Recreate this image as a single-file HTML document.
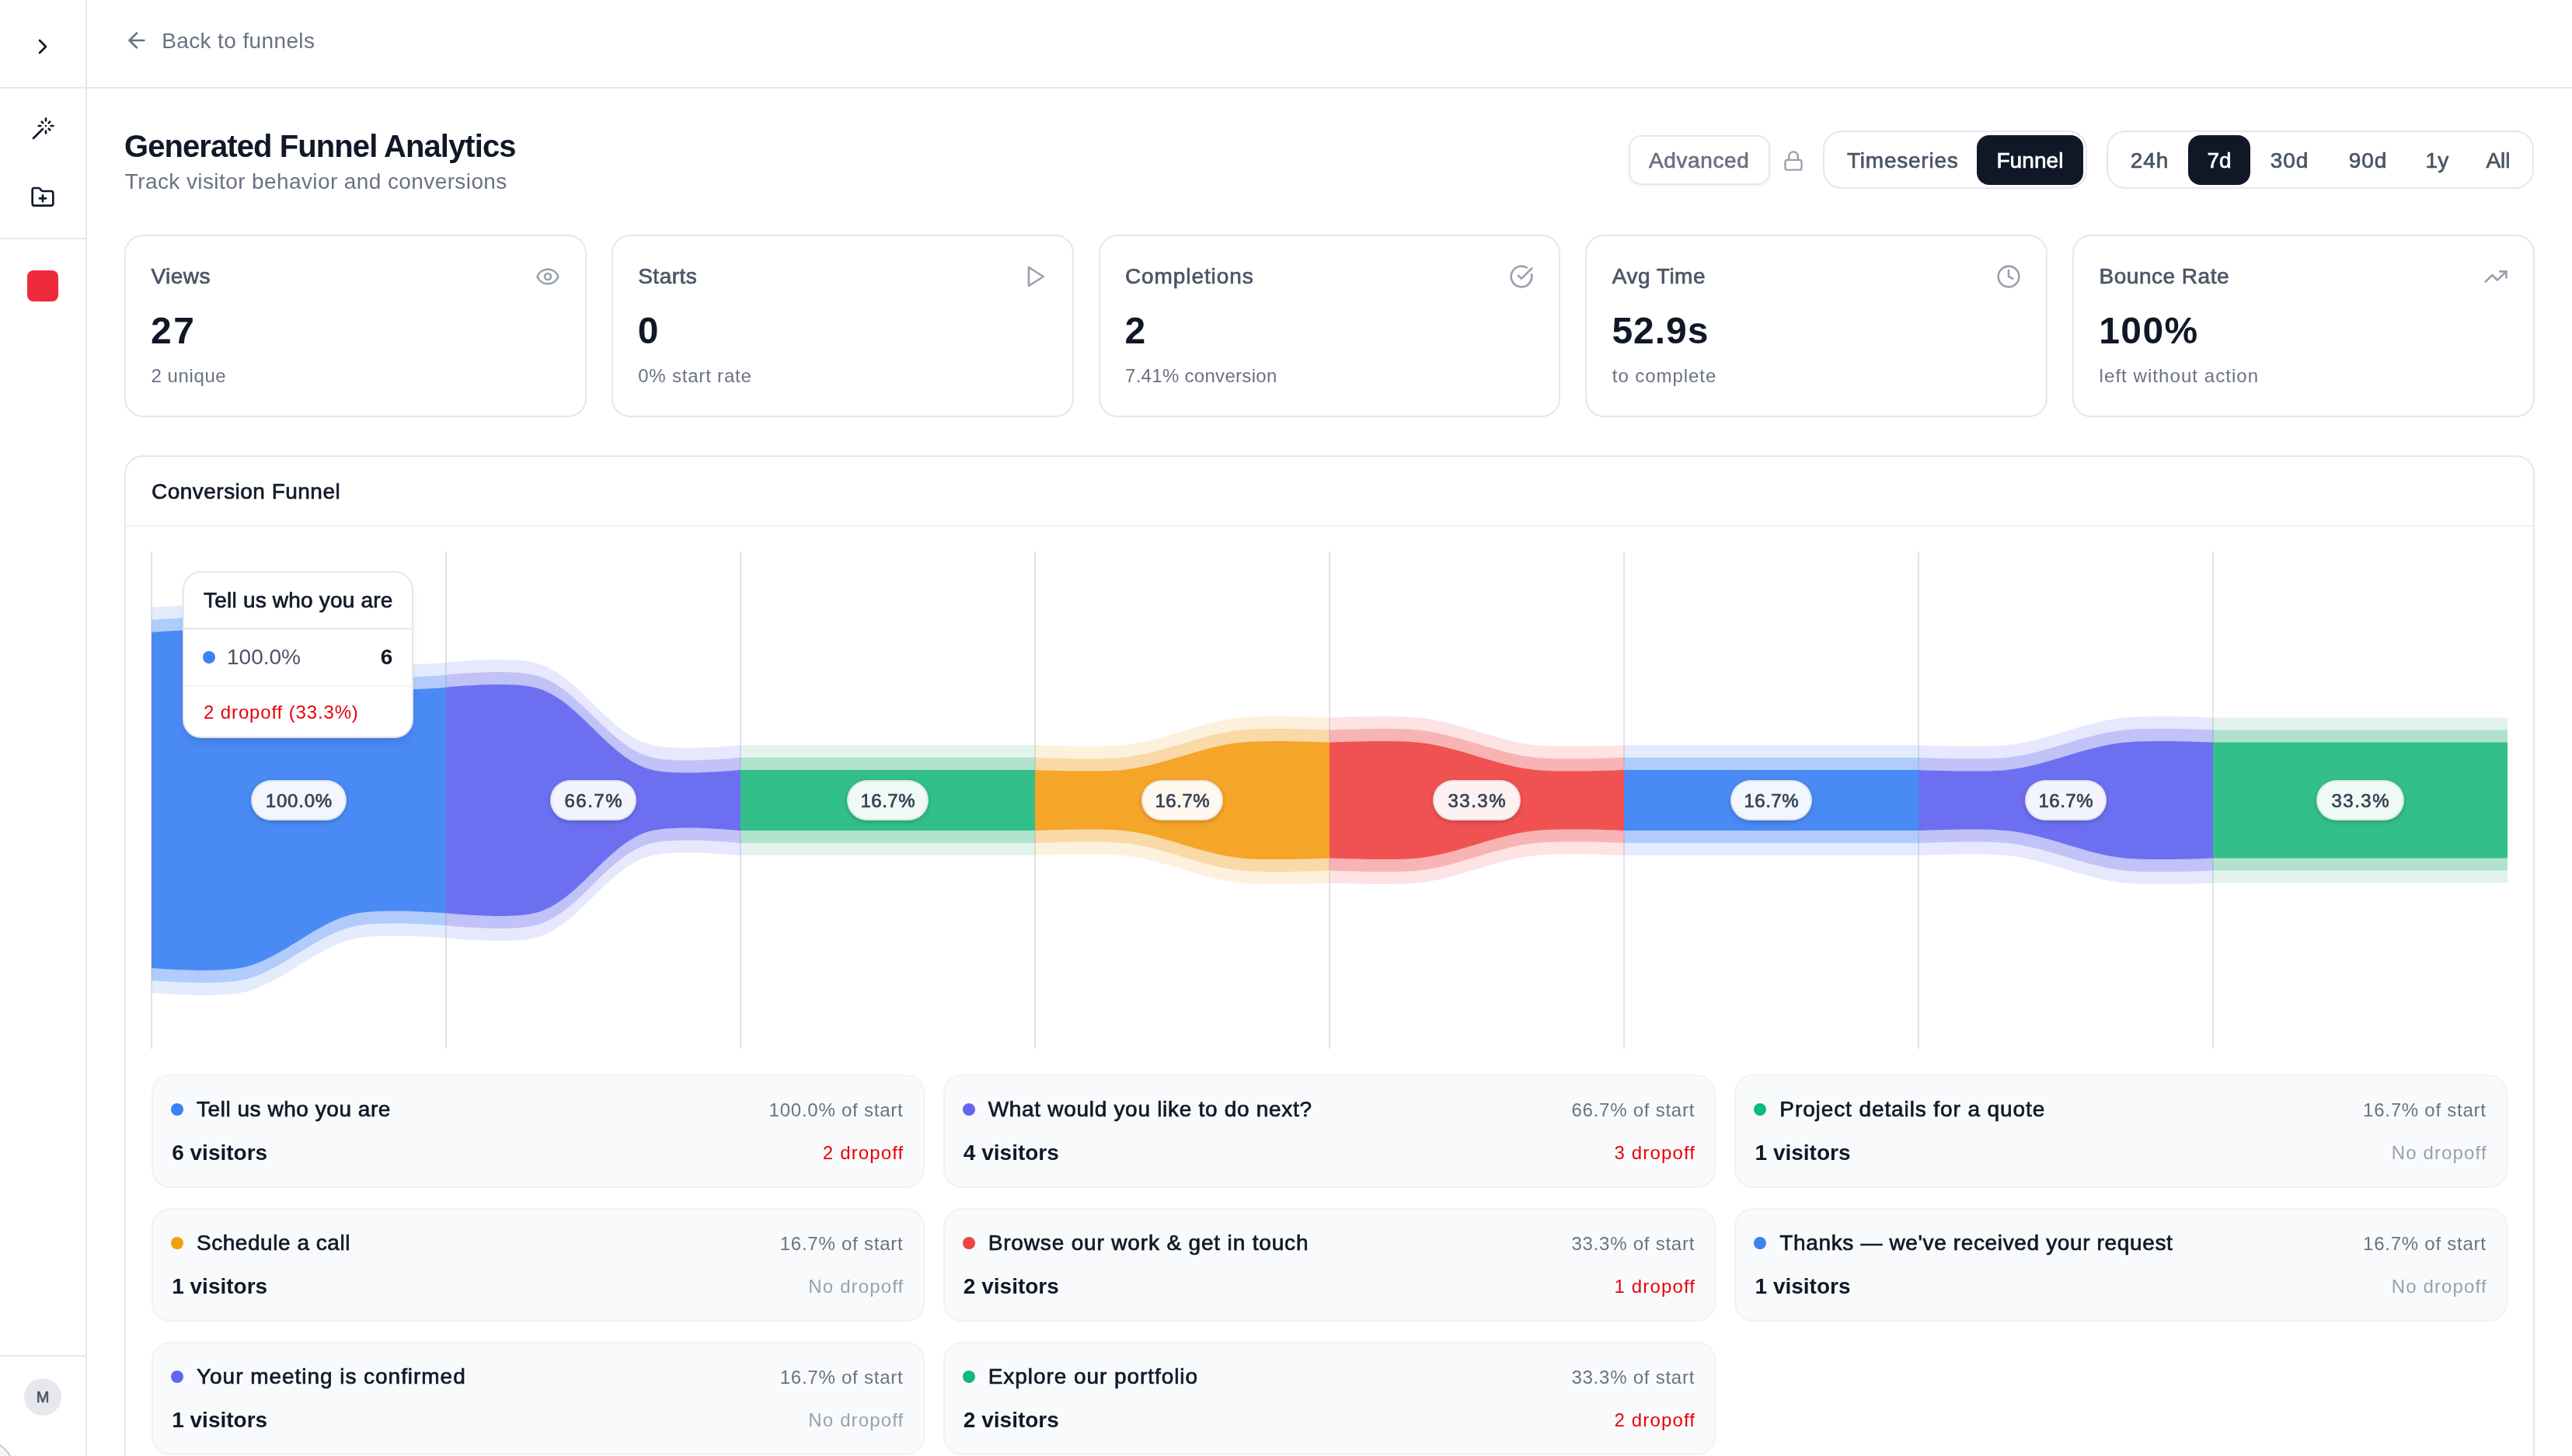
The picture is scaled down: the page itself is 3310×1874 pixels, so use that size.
<!DOCTYPE html>
<html><head><meta charset="utf-8"><title>Funnel Analytics</title>
<style>
html,body{margin:0;padding:0;overflow:hidden}
@media (min-width: 2400px){html{zoom:2}}
body{width:1655px;height:937px;overflow:hidden;position:relative;background:#fff;font-family:"Liberation Sans", sans-serif;}
.t{position:absolute;white-space:nowrap;line-height:1;}
.pill{position:absolute;width:120px;display:flex;justify-content:center;height:26px;font-size:12px;color:#364153;}
.pill span{display:inline-block;height:26px;box-sizing:border-box;line-height:25px;padding:0;text-align:center;border:1px solid rgba(0,0,0,0.07);border-radius:13px;background:rgba(255,255,255,0.92);box-shadow:0 1px 3px rgba(0,0,0,0.12),0 1px 2px rgba(0,0,0,0.08);letter-spacing:0.25px;-webkit-text-stroke-width:0.35px}
</style></head><body>
<div id="root" style="position:absolute;left:0;top:0;width:1655px;height:937px;overflow:hidden;will-change:transform">
<div style="position:absolute;left:55.00px;top:0.00px;width:1.00px;height:937.00px;background:#e5e7eb"></div>
<div style="position:absolute;left:0.00px;top:56.00px;width:55.00px;height:1.00px;background:#e5e7eb"></div>
<div style="position:absolute;left:56.00px;top:56.00px;width:1599.00px;height:1.00px;background:#e5e7eb"></div>
<svg style="position:absolute;left:19.50px;top:22.20px" width="16" height="16" viewBox="0 0 24 24" fill="none" stroke="#101828" stroke-width="2" stroke-linecap="round" stroke-linejoin="round"><path d="m9 18 6-6-6-6"/></svg>
<svg style="position:absolute;left:19.50px;top:74.90px" width="16" height="16" viewBox="0 0 24 24" fill="none" stroke="#101828" stroke-width="2" stroke-linecap="round" stroke-linejoin="round"><path d="M15 4V2"/><path d="M15 16v-2"/><path d="M8 9h2"/><path d="M20 9h2"/><path d="M17.8 11.8 19 13"/><path d="M15 9h.01"/><path d="M17.8 6.2 19 5"/><path d="m3 21 9-9"/><path d="M12.2 6.2 11 5"/></svg>
<svg style="position:absolute;left:19.50px;top:118.90px" width="16" height="16" viewBox="0 0 24 24" fill="none" stroke="#101828" stroke-width="2" stroke-linecap="round" stroke-linejoin="round"><path d="M12 10v6"/><path d="M9 13h6"/><path d="M20 20a2 2 0 0 0 2-2V8a2 2 0 0 0-2-2h-7.9a2 2 0 0 1-1.69-.9L9.6 3.9A2 2 0 0 0 7.93 3H4a2 2 0 0 0-2 2v13a2 2 0 0 0 2 2Z"/></svg>
<div style="position:absolute;left:0.00px;top:153.00px;width:55.00px;height:1.00px;background:#e5e7eb"></div>
<div style="position:absolute;left:17.50px;top:174.00px;width:20.00px;height:20.00px;background:#ef2a3d;border-radius:4px"></div>
<div style="position:absolute;left:0.00px;top:872.00px;width:55.00px;height:1.00px;background:#e5e7eb"></div>
<div style="position:absolute;left:-30.40px;top:926.70px;width:40.00px;height:40.00px;border:1px solid #c6c9d0;border-radius:50%;background:#f6f6f8;box-sizing:border-box"></div>
<div style="position:absolute;left:15.50px;top:887.00px;width:24.00px;height:24.00px;background:#e8e7ee;border-radius:50%"></div>
<div class="t" style="top:894.13px;font-size:10px;color:#4a5565;-webkit-text-stroke-width:0.35px;left:-122.50px;width:300px;text-align:center;">M</div>
<svg style="position:absolute;left:80.00px;top:18.00px" width="16" height="16" viewBox="0 0 24 24" fill="none" stroke="#6a7282" stroke-width="2" stroke-linecap="round" stroke-linejoin="round"><path d="m12 19-7-7 7-7"/><path d="M19 12H5"/></svg>
<div class="t" style="top:19.25px;font-size:14px;color:#6a7282;letter-spacing:0.190px;left:104.10px;">Back to funnels</div>
<div class="t" style="top:84.07px;font-size:20px;color:#101828;font-weight:700;letter-spacing:-0.460px;left:80.00px;">Generated Funnel Analytics</div>
<div class="t" style="top:109.85px;font-size:14px;color:#6a7282;letter-spacing:0.200px;left:80.40px;">Track visitor behavior and conversions</div>
<div style="position:absolute;left:1048.00px;top:87.00px;width:91.00px;height:32.00px;border:1px solid #e5e7eb;border-radius:8px;box-sizing:border-box;background:#fff;box-shadow:0 1px 2px rgba(0,0,0,0.05)"></div>
<div class="t" style="top:96.25px;font-size:14px;color:#6a7282;-webkit-text-stroke-width:0.35px;letter-spacing:0.300px;left:1061.00px;">Advanced</div>
<svg style="position:absolute;left:1146.80px;top:96.30px" width="14" height="14" viewBox="0 0 24 24" fill="none" stroke="#99a1af" stroke-width="2" stroke-linecap="round" stroke-linejoin="round"><rect width="18" height="11" x="3" y="11" rx="2" ry="2"/><path d="M7 11V7a5 5 0 0 1 10 0v4"/></svg>
<div style="position:absolute;left:1173.20px;top:84.20px;width:169.60px;height:37.40px;border:1px solid #e5e7eb;border-radius:12px;box-sizing:border-box;background:#fff"></div>
<div class="t" style="top:96.25px;font-size:14px;color:#4a5565;-webkit-text-stroke-width:0.35px;letter-spacing:0.380px;left:1188.50px;">Timeseries</div>
<div style="position:absolute;left:1272.00px;top:87.00px;width:68.40px;height:32.00px;background:#101828;border-radius:8px"></div>
<div class="t" style="top:96.25px;font-size:14px;color:#fff;-webkit-text-stroke-width:0.35px;letter-spacing:0.050px;left:1284.70px;">Funnel</div>
<div style="position:absolute;left:1355.60px;top:84.20px;width:275.10px;height:37.40px;border:1px solid #e5e7eb;border-radius:12px;box-sizing:border-box;background:#fff"></div>
<div style="position:absolute;left:1407.90px;top:87.00px;width:39.90px;height:32.00px;background:#101828;border-radius:8px"></div>
<div class="t" style="top:96.25px;font-size:14px;color:#4a5565;-webkit-text-stroke-width:0.35px;letter-spacing:0.450px;left:1233.25px;width:300px;text-align:center;">24h</div>
<div class="t" style="top:96.25px;font-size:14px;color:#fff;-webkit-text-stroke-width:0.35px;left:1278.00px;width:300px;text-align:center;">7d</div>
<div class="t" style="top:96.25px;font-size:14px;color:#4a5565;-webkit-text-stroke-width:0.35px;letter-spacing:0.450px;left:1323.25px;width:300px;text-align:center;">30d</div>
<div class="t" style="top:96.25px;font-size:14px;color:#4a5565;-webkit-text-stroke-width:0.35px;letter-spacing:0.450px;left:1373.75px;width:300px;text-align:center;">90d</div>
<div class="t" style="top:96.25px;font-size:14px;color:#4a5565;-webkit-text-stroke-width:0.35px;left:1418.20px;width:300px;text-align:center;">1y</div>
<div class="t" style="top:96.25px;font-size:14px;color:#4a5565;-webkit-text-stroke-width:0.35px;left:1457.50px;width:300px;text-align:center;">All</div>
<div style="position:absolute;left:80.00px;top:151.00px;width:297.40px;height:117.60px;border:1px solid #e5e7eb;border-radius:12px;box-sizing:border-box;background:#fff"></div>
<div class="t" style="top:171.05px;font-size:14px;color:#4a5565;-webkit-text-stroke-width:0.35px;letter-spacing:0.250px;left:97.20px;">Views</div>
<svg style="position:absolute;left:344.40px;top:170.10px" width="16" height="16" viewBox="0 0 24 24" fill="none" stroke="#99a1af" stroke-width="2" stroke-linecap="round" stroke-linejoin="round"><path d="M2.062 12.348a1 1 0 0 1 0-.696 10.75 10.75 0 0 1 19.876 0 1 1 0 0 1 0 .696 10.75 10.75 0 0 1-19.876 0"/><circle cx="12" cy="12" r="3"/></svg>
<div class="t" style="top:200.88px;font-size:24px;color:#101828;font-weight:700;letter-spacing:1.300px;left:97.00px;">27</div>
<div class="t" style="top:235.94px;font-size:12px;color:#6a7282;letter-spacing:0.300px;left:97.20px;">2 unique</div>
<div style="position:absolute;left:393.40px;top:151.00px;width:297.40px;height:117.60px;border:1px solid #e5e7eb;border-radius:12px;box-sizing:border-box;background:#fff"></div>
<div class="t" style="top:171.05px;font-size:14px;color:#4a5565;-webkit-text-stroke-width:0.35px;letter-spacing:0.250px;left:410.60px;">Starts</div>
<svg style="position:absolute;left:657.80px;top:170.10px" width="16" height="16" viewBox="0 0 24 24" fill="none" stroke="#99a1af" stroke-width="2" stroke-linecap="round" stroke-linejoin="round"><polygon points="6 3 20 12 6 21 6 3"/></svg>
<div class="t" style="top:200.88px;font-size:24px;color:#101828;font-weight:700;left:410.40px;">0</div>
<div class="t" style="top:235.94px;font-size:12px;color:#6a7282;letter-spacing:0.400px;left:410.60px;">0% start rate</div>
<div style="position:absolute;left:706.80px;top:151.00px;width:297.40px;height:117.60px;border:1px solid #e5e7eb;border-radius:12px;box-sizing:border-box;background:#fff"></div>
<div class="t" style="top:171.05px;font-size:14px;color:#4a5565;-webkit-text-stroke-width:0.35px;letter-spacing:0.450px;left:724.00px;">Completions</div>
<svg style="position:absolute;left:971.20px;top:170.10px" width="16" height="16" viewBox="0 0 24 24" fill="none" stroke="#99a1af" stroke-width="2" stroke-linecap="round" stroke-linejoin="round"><path d="M21.801 10A10 10 0 1 1 17 3.335"/><path d="m9 11 3 3L22 4"/></svg>
<div class="t" style="top:200.88px;font-size:24px;color:#101828;font-weight:700;left:723.80px;">2</div>
<div class="t" style="top:235.94px;font-size:12px;color:#6a7282;letter-spacing:0.150px;left:724.00px;">7.41% conversion</div>
<div style="position:absolute;left:1020.20px;top:151.00px;width:297.40px;height:117.60px;border:1px solid #e5e7eb;border-radius:12px;box-sizing:border-box;background:#fff"></div>
<div class="t" style="top:171.05px;font-size:14px;color:#4a5565;-webkit-text-stroke-width:0.35px;letter-spacing:0.250px;left:1037.40px;">Avg Time</div>
<svg style="position:absolute;left:1284.60px;top:170.10px" width="16" height="16" viewBox="0 0 24 24" fill="none" stroke="#99a1af" stroke-width="2" stroke-linecap="round" stroke-linejoin="round"><circle cx="12" cy="12" r="10"/><polyline points="12 6 12 12 16 14"/></svg>
<div class="t" style="top:200.88px;font-size:24px;color:#101828;font-weight:700;letter-spacing:0.500px;left:1037.20px;">52.9s</div>
<div class="t" style="top:235.94px;font-size:12px;color:#6a7282;letter-spacing:0.470px;left:1037.40px;">to complete</div>
<div style="position:absolute;left:1333.60px;top:151.00px;width:297.40px;height:117.60px;border:1px solid #e5e7eb;border-radius:12px;box-sizing:border-box;background:#fff"></div>
<div class="t" style="top:171.05px;font-size:14px;color:#4a5565;-webkit-text-stroke-width:0.35px;letter-spacing:0.250px;left:1350.80px;">Bounce Rate</div>
<svg style="position:absolute;left:1598.00px;top:170.10px" width="16" height="16" viewBox="0 0 24 24" fill="none" stroke="#99a1af" stroke-width="2" stroke-linecap="round" stroke-linejoin="round"><polyline points="22 7 13.5 15.5 8.5 10.5 2 17"/><polyline points="16 7 22 7 22 13"/></svg>
<div class="t" style="top:200.88px;font-size:24px;color:#101828;font-weight:700;letter-spacing:0.700px;left:1350.60px;">100%</div>
<div class="t" style="top:235.94px;font-size:12px;color:#6a7282;letter-spacing:0.530px;left:1350.80px;">left without action</div>
<div style="position:absolute;left:80.00px;top:293.00px;width:1551.00px;height:700.00px;border:1px solid #e5e7eb;border-radius:12px;box-sizing:border-box;background:#fff"></div>
<div class="t" style="top:309.35px;font-size:14px;color:#101828;-webkit-text-stroke-width:0.35px;letter-spacing:0.240px;left:97.50px;">Conversion Funnel</div>
<div style="position:absolute;left:81.00px;top:338.00px;width:1549.00px;height:1.00px;background:#f0f1f4"></div>
<svg style="position:absolute;left:97.5px;top:355px;overflow:visible" width="1516" height="320" viewBox="0 0 1516 320"><rect x="-0.50" y="0" width="1" height="320" fill="#e3e4e8"/><rect x="189.00" y="0" width="1" height="320" fill="#e3e4e8"/><rect x="378.50" y="0" width="1" height="320" fill="#e3e4e8"/><rect x="568.00" y="0" width="1" height="320" fill="#e3e4e8"/><rect x="757.50" y="0" width="1" height="320" fill="#e3e4e8"/><rect x="947.00" y="0" width="1" height="320" fill="#e3e4e8"/><rect x="1136.50" y="0" width="1" height="320" fill="#e3e4e8"/><rect x="1326.00" y="0" width="1" height="320" fill="#e3e4e8"/><path d="M0,35.95C0,35.95 38.62,32.71 56.85,35.95C83.68,40.72 105.82,66.58 132.65,71.35C150.88,74.59 189.5,71.35 189.5,71.35L189.5,248.65C189.5,248.65 150.88,245.41 132.65,248.65C105.82,253.42 83.68,279.28 56.85,284.05C38.62,287.29 0,284.05 0,284.05Z" fill="#3c81f4" fill-opacity="0.15"/><path d="M0,43.95C0,43.95 38.62,40.71 56.85,43.95C83.68,48.72 105.82,74.58 132.65,79.35C150.88,82.59 189.5,79.35 189.5,79.35L189.5,240.65C189.5,240.65 150.88,237.41 132.65,240.65C105.82,245.42 83.68,271.28 56.85,276.05C38.62,279.29 0,276.05 0,276.05Z" fill="#3c81f4" fill-opacity="0.294"/><path d="M0,51.95C0,51.95 38.62,48.71 56.85,51.95C83.68,56.72 105.82,82.58 132.65,87.35C150.88,90.59 189.5,87.35 189.5,87.35L189.5,232.65C189.5,232.65 150.88,229.41 132.65,232.65C105.82,237.42 83.68,263.28 56.85,268.05C38.62,271.29 0,268.05 0,268.05Z" fill="#4a8af5"/><path d="M189.5,71.35C189.5,71.35 228.7,67.21 246.35,71.35C275.08,78.09 293.42,117.71 322.15,124.45C339.8,128.59 379,124.45 379,124.45L379,195.55C379,195.55 339.8,191.41 322.15,195.55C293.42,202.29 275.08,241.91 246.35,248.65C228.7,252.79 189.5,248.65 189.5,248.65Z" fill="#6165ef" fill-opacity="0.15"/><path d="M189.5,79.35C189.5,79.35 228.7,75.21 246.35,79.35C275.08,86.09 293.42,125.71 322.15,132.45C339.8,136.59 379,132.45 379,132.45L379,187.55C379,187.55 339.8,183.41 322.15,187.55C293.42,194.29 275.08,233.91 246.35,240.65C228.7,244.79 189.5,240.65 189.5,240.65Z" fill="#6165ef" fill-opacity="0.294"/><path d="M189.5,87.35C189.5,87.35 228.7,83.21 246.35,87.35C275.08,94.09 293.42,133.71 322.15,140.45C339.8,144.59 379,140.45 379,140.45L379,179.55C379,179.55 339.8,175.41 322.15,179.55C293.42,186.29 275.08,225.91 246.35,232.65C228.7,236.79 189.5,232.65 189.5,232.65Z" fill="#6c70f0"/><path d="M379,124.45H568.5V195.55H379Z" fill="#3eb785" fill-opacity="0.15"/><path d="M379,132.45H568.5V187.55H379Z" fill="#3eb785" fill-opacity="0.294"/><path d="M379,140.45H568.5V179.55H379Z" fill="#32bf8a"/><path d="M568.5,124.45C568.5,124.45 606.61,126.27 625.35,124.45C651.01,121.96 675.49,109.24 701.15,106.75C719.89,104.93 758,106.75 758,106.75L758,213.25C758,213.25 719.89,215.07 701.15,213.25C675.49,210.76 651.01,198.04 625.35,195.55C606.61,193.73 568.5,195.55 568.5,195.55Z" fill="#f3a024" fill-opacity="0.15"/><path d="M568.5,132.45C568.5,132.45 606.61,134.27 625.35,132.45C651.01,129.96 675.49,117.24 701.15,114.75C719.89,112.93 758,114.75 758,114.75L758,205.25C758,205.25 719.89,207.07 701.15,205.25C675.49,202.76 651.01,190.04 625.35,187.55C606.61,185.73 568.5,187.55 568.5,187.55Z" fill="#f3a024" fill-opacity="0.294"/><path d="M568.5,140.45C568.5,140.45 606.61,142.27 625.35,140.45C651.01,137.96 675.49,125.24 701.15,122.75C719.89,120.93 758,122.75 758,122.75L758,197.25C758,197.25 719.89,199.07 701.15,197.25C675.49,194.76 651.01,182.04 625.35,179.55C606.61,177.73 568.5,179.55 568.5,179.55Z" fill="#f5a528"/><path d="M758,106.75C758,106.75 796.11,104.93 814.85,106.75C840.51,109.24 864.99,121.96 890.65,124.45C909.39,126.27 947.5,124.45 947.5,124.45L947.5,195.55C947.5,195.55 909.39,193.73 890.65,195.55C864.99,198.04 840.51,210.76 814.85,213.25C796.11,215.07 758,213.25 758,213.25Z" fill="#ef4545" fill-opacity="0.15"/><path d="M758,114.75C758,114.75 796.11,112.93 814.85,114.75C840.51,117.24 864.99,129.96 890.65,132.45C909.39,134.27 947.5,132.45 947.5,132.45L947.5,187.55C947.5,187.55 909.39,185.73 890.65,187.55C864.99,190.04 840.51,202.76 814.85,205.25C796.11,207.07 758,205.25 758,205.25Z" fill="#ef4545" fill-opacity="0.294"/><path d="M758,122.75C758,122.75 796.11,120.93 814.85,122.75C840.51,125.24 864.99,137.96 890.65,140.45C909.39,142.27 947.5,140.45 947.5,140.45L947.5,179.55C947.5,179.55 909.39,177.73 890.65,179.55C864.99,182.04 840.51,194.76 814.85,197.25C796.11,199.07 758,197.25 758,197.25Z" fill="#f05252"/><path d="M947.5,124.45H1137V195.55H947.5Z" fill="#3c81f4" fill-opacity="0.15"/><path d="M947.5,132.45H1137V187.55H947.5Z" fill="#3c81f4" fill-opacity="0.294"/><path d="M947.5,140.45H1137V179.55H947.5Z" fill="#4a8af5"/><path d="M1137,124.45C1137,124.45 1175.11,126.27 1193.85,124.45C1219.51,121.96 1243.99,109.24 1269.65,106.75C1288.39,104.93 1326.5,106.75 1326.5,106.75L1326.5,213.25C1326.5,213.25 1288.39,215.07 1269.65,213.25C1243.99,210.76 1219.51,198.04 1193.85,195.55C1175.11,193.73 1137,195.55 1137,195.55Z" fill="#6165ef" fill-opacity="0.15"/><path d="M1137,132.45C1137,132.45 1175.11,134.27 1193.85,132.45C1219.51,129.96 1243.99,117.24 1269.65,114.75C1288.39,112.93 1326.5,114.75 1326.5,114.75L1326.5,205.25C1326.5,205.25 1288.39,207.07 1269.65,205.25C1243.99,202.76 1219.51,190.04 1193.85,187.55C1175.11,185.73 1137,187.55 1137,187.55Z" fill="#6165ef" fill-opacity="0.294"/><path d="M1137,140.45C1137,140.45 1175.11,142.27 1193.85,140.45C1219.51,137.96 1243.99,125.24 1269.65,122.75C1288.39,120.93 1326.5,122.75 1326.5,122.75L1326.5,197.25C1326.5,197.25 1288.39,199.07 1269.65,197.25C1243.99,194.76 1219.51,182.04 1193.85,179.55C1175.11,177.73 1137,179.55 1137,179.55Z" fill="#6c70f0"/><path d="M1326.5,106.75H1516V213.25H1326.5Z" fill="#3eb785" fill-opacity="0.15"/><path d="M1326.5,114.75H1516V205.25H1326.5Z" fill="#3eb785" fill-opacity="0.294"/><path d="M1326.5,122.75H1516V197.25H1326.5Z" fill="#32bf8a"/></svg>
<div class="pill" style="left:132.25px;top:501.9px"><span style="width:61.5px;letter-spacing:0.4px;text-indent:0.4px">100.0%</span></div>
<div class="pill" style="left:321.75px;top:501.9px"><span style="width:55.05px;letter-spacing:0.75px;text-indent:0.75px">66.7%</span></div>
<div class="pill" style="left:511.25px;top:501.9px"><span style="width:52.9px;letter-spacing:0.25px;text-indent:0.25px">16.7%</span></div>
<div class="pill" style="left:700.75px;top:501.9px"><span style="width:52.9px;letter-spacing:0.25px;text-indent:0.25px">16.7%</span></div>
<div class="pill" style="left:890.25px;top:501.9px"><span style="width:56.25px;letter-spacing:0.75px;text-indent:0.75px">33.3%</span></div>
<div class="pill" style="left:1079.75px;top:501.9px"><span style="width:52.9px;letter-spacing:0.25px;text-indent:0.25px">16.7%</span></div>
<div class="pill" style="left:1269.25px;top:501.9px"><span style="width:52.9px;letter-spacing:0.25px;text-indent:0.25px">16.7%</span></div>
<div class="pill" style="left:1458.75px;top:501.9px"><span style="width:56.25px;letter-spacing:0.75px;text-indent:0.75px">33.3%</span></div>
<div style="position:absolute;left:117.60px;top:367.30px;width:148.40px;height:107.50px;border:1px solid #e5e7eb;border-radius:12px;box-sizing:border-box;background:#fff;box-shadow:0 4px 6px -1px rgba(0,0,0,0.08),0 2px 4px -2px rgba(0,0,0,0.06)"></div>
<div class="t" style="top:379.25px;font-size:14px;color:#101828;-webkit-text-stroke-width:0.35px;letter-spacing:0.100px;left:131.05px;">Tell us who you are</div>
<div style="position:absolute;left:118.60px;top:404.10px;width:146.40px;height:1.00px;background:#e5e7eb"></div>
<div style="position:absolute;left:130.40px;top:419.10px;width:8.00px;height:8.00px;background:#3b82f6;border-radius:50%"></div>
<div class="t" style="top:416.20px;font-size:14px;color:#4a5565;left:146.00px;">100.0%</div>
<div class="t" style="top:416.20px;font-size:14px;color:#101828;font-weight:700;right:1402.40px;">6</div>
<div style="position:absolute;left:118.60px;top:441.10px;width:146.40px;height:1.00px;background:#f3f4f6"></div>
<div class="t" style="top:452.49px;font-size:12px;color:#e7000b;letter-spacing:0.430px;left:131.05px;">2 dropoff (33.3%)</div>
<div style="position:absolute;left:97.50px;top:691.50px;width:497.33px;height:73.00px;background:#f9fafb;border:1px solid #f1f2f4;border-radius:12px;box-sizing:border-box"></div>
<div style="position:absolute;left:110.00px;top:710.00px;width:8.00px;height:8.00px;background:#3b82f6;border-radius:50%"></div>
<div class="t" style="top:707.05px;font-size:14px;color:#101828;-webkit-text-stroke-width:0.35px;letter-spacing:0.270px;left:126.50px;">Tell us who you are</div>
<div class="t" style="top:708.34px;font-size:12px;color:#6a7282;letter-spacing:0.380px;right:1073.79px;">100.0% of start</div>
<div class="t" style="top:735.05px;font-size:14px;color:#101828;font-weight:700;left:110.60px;">6 visitors</div>
<div class="t" style="top:736.24px;font-size:12px;color:#e7000b;letter-spacing:0.570px;right:1073.30px;">2 dropoff</div>
<div style="position:absolute;left:606.83px;top:691.50px;width:497.33px;height:73.00px;background:#f9fafb;border:1px solid #f1f2f4;border-radius:12px;box-sizing:border-box"></div>
<div style="position:absolute;left:619.33px;top:710.00px;width:8.00px;height:8.00px;background:#6366f1;border-radius:50%"></div>
<div class="t" style="top:707.05px;font-size:14px;color:#101828;-webkit-text-stroke-width:0.35px;letter-spacing:0.350px;left:635.83px;">What would you like to do next?</div>
<div class="t" style="top:708.34px;font-size:12px;color:#6a7282;letter-spacing:0.380px;right:564.45px;">66.7% of start</div>
<div class="t" style="top:735.05px;font-size:14px;color:#101828;font-weight:700;left:619.93px;">4 visitors</div>
<div class="t" style="top:736.24px;font-size:12px;color:#e7000b;letter-spacing:0.570px;right:563.96px;">3 dropoff</div>
<div style="position:absolute;left:1116.17px;top:691.50px;width:497.33px;height:73.00px;background:#f9fafb;border:1px solid #f1f2f4;border-radius:12px;box-sizing:border-box"></div>
<div style="position:absolute;left:1128.67px;top:710.00px;width:8.00px;height:8.00px;background:#10b981;border-radius:50%"></div>
<div class="t" style="top:707.05px;font-size:14px;color:#101828;-webkit-text-stroke-width:0.35px;letter-spacing:0.450px;left:1145.17px;">Project details for a quote</div>
<div class="t" style="top:708.34px;font-size:12px;color:#6a7282;letter-spacing:0.380px;right:55.12px;">16.7% of start</div>
<div class="t" style="top:735.05px;font-size:14px;color:#101828;font-weight:700;left:1129.27px;">1 visitors</div>
<div class="t" style="top:736.24px;font-size:12px;color:#99a1af;letter-spacing:0.570px;right:54.63px;">No dropoff</div>
<div style="position:absolute;left:97.50px;top:777.50px;width:497.33px;height:73.00px;background:#f9fafb;border:1px solid #f1f2f4;border-radius:12px;box-sizing:border-box"></div>
<div style="position:absolute;left:110.00px;top:796.00px;width:8.00px;height:8.00px;background:#f59e0b;border-radius:50%"></div>
<div class="t" style="top:793.05px;font-size:14px;color:#101828;-webkit-text-stroke-width:0.35px;letter-spacing:0.270px;left:126.50px;">Schedule a call</div>
<div class="t" style="top:794.34px;font-size:12px;color:#6a7282;letter-spacing:0.380px;right:1073.79px;">16.7% of start</div>
<div class="t" style="top:821.05px;font-size:14px;color:#101828;font-weight:700;left:110.60px;">1 visitors</div>
<div class="t" style="top:822.24px;font-size:12px;color:#99a1af;letter-spacing:0.570px;right:1073.30px;">No dropoff</div>
<div style="position:absolute;left:606.83px;top:777.50px;width:497.33px;height:73.00px;background:#f9fafb;border:1px solid #f1f2f4;border-radius:12px;box-sizing:border-box"></div>
<div style="position:absolute;left:619.33px;top:796.00px;width:8.00px;height:8.00px;background:#ef4444;border-radius:50%"></div>
<div class="t" style="top:793.05px;font-size:14px;color:#101828;-webkit-text-stroke-width:0.35px;letter-spacing:0.420px;left:635.83px;">Browse our work &amp; get in touch</div>
<div class="t" style="top:794.34px;font-size:12px;color:#6a7282;letter-spacing:0.380px;right:564.45px;">33.3% of start</div>
<div class="t" style="top:821.05px;font-size:14px;color:#101828;font-weight:700;left:619.93px;">2 visitors</div>
<div class="t" style="top:822.24px;font-size:12px;color:#e7000b;letter-spacing:0.570px;right:563.96px;">1 dropoff</div>
<div style="position:absolute;left:1116.17px;top:777.50px;width:497.33px;height:73.00px;background:#f9fafb;border:1px solid #f1f2f4;border-radius:12px;box-sizing:border-box"></div>
<div style="position:absolute;left:1128.67px;top:796.00px;width:8.00px;height:8.00px;background:#3b82f6;border-radius:50%"></div>
<div class="t" style="top:793.05px;font-size:14px;color:#101828;-webkit-text-stroke-width:0.35px;letter-spacing:0.320px;left:1145.17px;">Thanks — we've received your request</div>
<div class="t" style="top:794.34px;font-size:12px;color:#6a7282;letter-spacing:0.380px;right:55.12px;">16.7% of start</div>
<div class="t" style="top:821.05px;font-size:14px;color:#101828;font-weight:700;left:1129.27px;">1 visitors</div>
<div class="t" style="top:822.24px;font-size:12px;color:#99a1af;letter-spacing:0.570px;right:54.63px;">No dropoff</div>
<div style="position:absolute;left:97.50px;top:863.50px;width:497.33px;height:73.00px;background:#f9fafb;border:1px solid #f1f2f4;border-radius:12px;box-sizing:border-box"></div>
<div style="position:absolute;left:110.00px;top:882.00px;width:8.00px;height:8.00px;background:#6366f1;border-radius:50%"></div>
<div class="t" style="top:879.05px;font-size:14px;color:#101828;-webkit-text-stroke-width:0.35px;letter-spacing:0.480px;left:126.50px;">Your meeting is confirmed</div>
<div class="t" style="top:880.34px;font-size:12px;color:#6a7282;letter-spacing:0.380px;right:1073.79px;">16.7% of start</div>
<div class="t" style="top:907.05px;font-size:14px;color:#101828;font-weight:700;left:110.60px;">1 visitors</div>
<div class="t" style="top:908.24px;font-size:12px;color:#99a1af;letter-spacing:0.570px;right:1073.30px;">No dropoff</div>
<div style="position:absolute;left:606.83px;top:863.50px;width:497.33px;height:73.00px;background:#f9fafb;border:1px solid #f1f2f4;border-radius:12px;box-sizing:border-box"></div>
<div style="position:absolute;left:619.33px;top:882.00px;width:8.00px;height:8.00px;background:#10b981;border-radius:50%"></div>
<div class="t" style="top:879.05px;font-size:14px;color:#101828;-webkit-text-stroke-width:0.35px;letter-spacing:0.470px;left:635.83px;">Explore our portfolio</div>
<div class="t" style="top:880.34px;font-size:12px;color:#6a7282;letter-spacing:0.380px;right:564.45px;">33.3% of start</div>
<div class="t" style="top:907.05px;font-size:14px;color:#101828;font-weight:700;left:619.93px;">2 visitors</div>
<div class="t" style="top:908.24px;font-size:12px;color:#e7000b;letter-spacing:0.570px;right:563.96px;">2 dropoff</div>
</div>
</body></html>
